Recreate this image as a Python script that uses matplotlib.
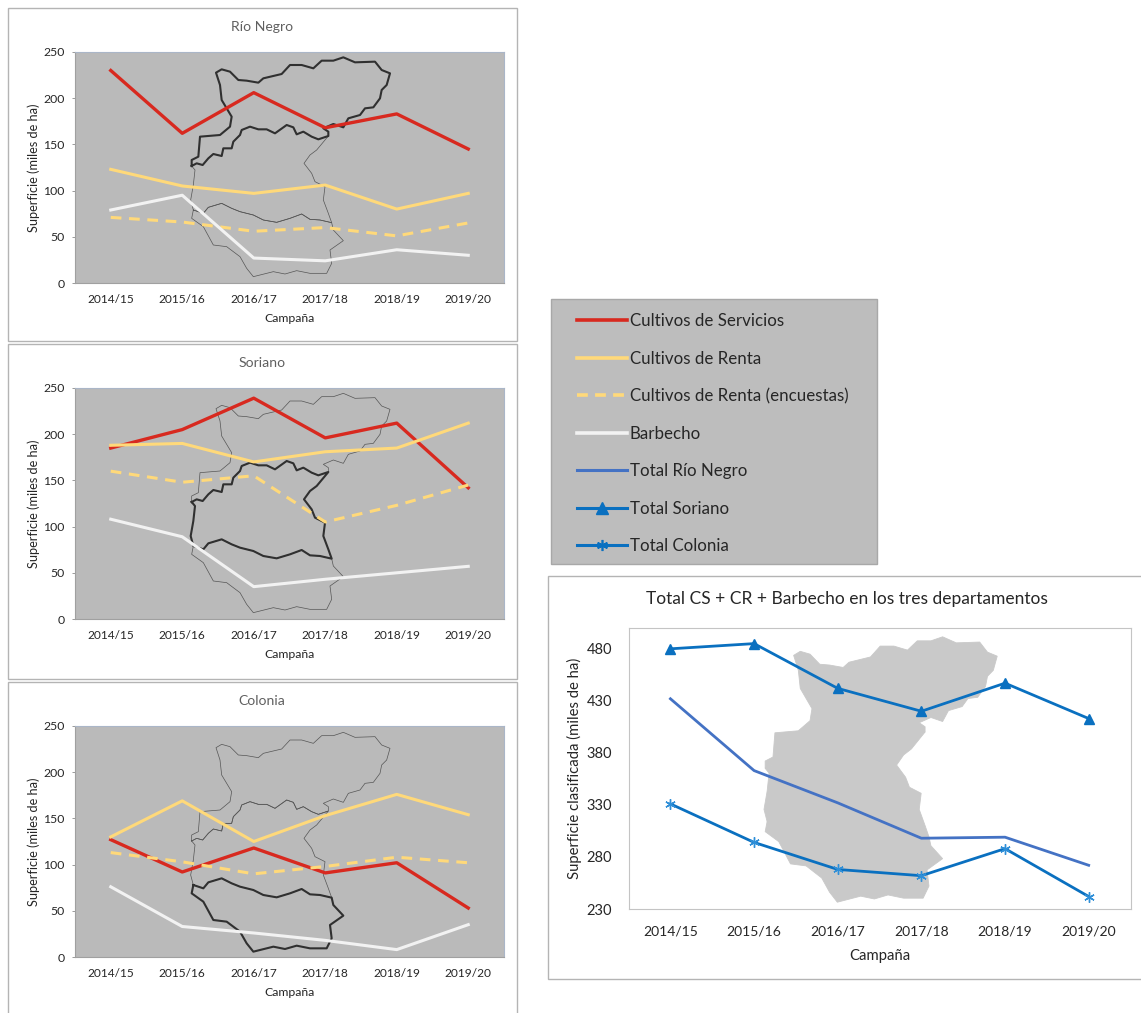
import matplotlib
matplotlib.use("Agg")
import matplotlib.pyplot as plt
from matplotlib.lines import Line2D
from matplotlib.patches import Rectangle
from matplotlib.transforms import Affine2D

plt.rcParams["font.family"] = ["Lato", "DejaVu Sans"]

W, H = 1141, 1013

campaigns = ["2014/15", "2015/16", "2016/17", "2017/18", "2018/19", "2019/20"]

rn_servicios = [230, 162, 206, 168, 183, 145]
rn_renta = [123, 105, 97, 106, 80, 97]
rn_encuestas = [71, 66, 56, 60, 51, 65]
rn_barbecho = [79, 95, 27, 24, 36, 30]

so_servicios = [185, 205, 239, 196, 212, 142]
so_renta = [188, 190, 170, 181, 185, 212]
so_encuestas = [160, 148, 155, 105, 123, 145]
so_barbecho = [108, 89, 35, 43, 50, 57]

co_servicios = [127, 92, 118, 91, 102, 53]
co_renta = [130, 169, 125, 153, 176, 154]
co_encuestas = [113, 103, 90, 98, 108, 102]
co_barbecho = [76, 33, 26, 18, 8, 35]

total_rio_negro = [432, 363, 332, 298, 299, 272]
total_soriano = [480, 485, 442, 420, 447, 413]
total_colonia = [331, 294, 268, 262, 288, 242]

# map outlines (3x zoom pixels)
rn_x = [575, 590, 608, 625, 640, 665, 670, 695, 700, 720, 725, 750, 775, 800, 825, 860, 880, 890, 910, 935, 955, 985,
        985, 970, 1000, 1030, 1045, 1080, 1095, 1120, 1140, 1145, 1160, 1170, 1145, 1125, 1065, 1030, 1000, 965, 940,
        905, 870, 845, 790, 775, 740, 715, 690, 665, 648, 660, 665, 680, 695, 690, 660, 600, 595, 575, 575]
rn_y = [498, 490, 495, 475, 462, 468, 445, 445, 425, 405, 390, 380, 388, 388, 400, 375, 382, 403, 395, 410, 418, 408,
        395, 385, 372, 382, 355, 345, 325, 322, 295, 270, 255, 220, 210, 185, 187, 172, 182, 182, 205,
        195, 195, 222, 235, 248, 242, 240, 215, 208, 218, 255, 300, 325, 350, 380, 405, 410, 470, 480, 498]
so_x = [575, 590, 608, 625, 640, 665, 670, 695, 700, 720, 725, 750, 775, 800, 825, 860, 880, 890, 910, 935, 955, 985,
        975, 950, 930, 912, 935, 945, 975, 970, 985, 995,
        960, 930, 905, 870, 830, 790, 760, 720, 695, 665, 625, 610, 580, 572, 580, 585, 575]
so_y = [498, 490, 495, 475, 462, 468, 445, 445, 425, 405, 390, 380, 388, 388, 400, 375, 382, 403, 395, 410, 418, 408,
        420, 450, 465, 490, 520, 545, 560, 600, 640, 668,
        660, 658, 642, 655, 667, 660, 645, 635, 625, 610, 622, 640, 630, 600, 555, 510, 498]
co_x = [580, 610, 625, 665, 695, 720, 760, 790, 830, 870, 905, 930, 960, 995,
        1000, 1030, 990, 995, 980, 930, 890, 855, 820, 760, 740, 720, 680, 640, 610, 575, 580]
co_y = [630, 640, 622, 610, 625, 635, 645, 660, 667, 655, 642, 658, 660, 668,
        690, 722, 750, 790, 820, 820, 812, 822, 815, 830, 805, 770, 740, 735, 680, 655, 630]

GREY = "#bababa"
RED = "#d8291f"
YELLOW = "#ffd97a"
WHITE = "#f2f2f2"
BLUE = "#4472c4"
BLUE2 = "#0a70c0"
TEXT = "#262626"
ASTERISK = (6, 2, 0)

fig = plt.figure(figsize=(W / 100, H / 100), dpi=100, facecolor="white")
# everything that is placed by hand is placed in reference pixels
px = Affine2D().scale(1 / W, -1 / H).translate(0, 1) + fig.transFigure


def frame(x0, y0, x1, y1, fc="white", ec="#b4b4b4"):
    fig.add_artist(Rectangle((x0, y0), x1 - x0, y1 - y0, transform=px, fc=fc, ec=ec, lw=1, zorder=-1))


def axes_px(x0, y0, x1, y1):
    return fig.add_axes([x0 / W, 1 - y1 / H, (x1 - x0) / W, (y1 - y0) / H])


def outline(ax, xs, ys, dy, bold):
    color = "#303030" if bold else "#555555"
    ax.plot([x / 3 for x in xs], [y / 3 + dy for y in ys], transform=px, color=color,
            lw=1.5 if bold else 0.5, zorder=2 if bold else 1)


def panel(box, name, bold, series, dy):
    x0, y0, x1, y1 = box
    frame(x0, y0, x1, y1)
    ax = axes_px(75, y0 + 44, 504, y0 + 275)
    ax.set_facecolor(GREY)
    outline(ax, rn_x, rn_y, dy, bold == "rn")
    outline(ax, so_x, so_y, dy, bold == "so")
    outline(ax, co_x, co_y, dy, bold == "co")
    ax.plot(campaigns, series[0], color=RED, lw=2.4, zorder=3)
    ax.plot(campaigns, series[1], color=YELLOW, lw=2.2, zorder=3)
    ax.plot(campaigns, series[2], color=YELLOW, lw=2.2, ls=(0, (3.5, 2.5)), zorder=3)
    ax.plot(campaigns, series[3], color=WHITE, lw=2.2, zorder=3)
    ax.set_xlim(-0.5, 5.5)
    ax.set_ylim(0, 250)
    ax.set_yticks(range(0, 251, 50))
    ax.tick_params(axis="x", length=0, labelsize=8.6, pad=8, labelcolor=TEXT)
    ax.tick_params(axis="y", length=2.5, width=0.6, color="#8a8a8a", labelsize=8.8, pad=5, labelcolor=TEXT)
    for side in ["top", "right"]:
        ax.spines[side].set_color("#aab6c8")
    ax.spines["left"].set_color("#a0a0a0")
    ax.spines["bottom"].set_color("#a0a0a0")
    ax.set_ylabel("Superficie (miles de ha)", fontsize=9.2, color=TEXT, labelpad=2)
    ax.set_xlabel("Campaña", fontsize=8.8, color=TEXT, labelpad=6)
    fig.text(262 / W, 1 - (y0 + 19) / H, name, fontsize=10.1, color="#606060", ha="center", va="center")


panel((8, 8, 517, 341), "Río Negro", "rn", [rn_servicios, rn_renta, rn_encuestas, rn_barbecho], 0)
panel((8, 344, 517, 679), "Soriano", "so", [so_servicios, so_renta, so_encuestas, so_barbecho], 336)
panel((8, 682, 517, 1014), "Colonia", "co", [co_servicios, co_renta, co_encuestas, co_barbecho], 675)

# legend box
frame(551, 299, 877, 564, fc="#bdbdbd", ec="#a8a8a8")
handles = [
    Line2D([], [], color=RED, lw=2.6, label="Cultivos de Servicios"),
    Line2D([], [], color=YELLOW, lw=2.6, label="Cultivos de Renta"),
    Line2D([], [], color=YELLOW, lw=2.6, ls=(0, (3, 2)), label="Cultivos de Renta (encuestas)"),
    Line2D([], [], color=WHITE, lw=2.6, label="Barbecho"),
    Line2D([], [], color=BLUE, lw=2.2, label="Total Río Negro"),
    Line2D([], [], color=BLUE2, lw=2.2, marker="^", ms=8, label="Total Soriano"),
    Line2D([], [], color=BLUE2, lw=2.2, marker=ASTERISK, ms=8, mew=1.2, label="Total Colonia"),
]
fig.legend(handles=handles, loc="upper left", bbox_to_anchor=(571.5 / W, 1 - 308 / H), frameon=False,
           fontsize=12.2, labelcolor=TEXT, handlelength=3.0, handletextpad=0.15, labelspacing=1.27,
           borderpad=0.3, borderaxespad=0)

# totals chart
frame(548, 576, 1145, 979)
ax = axes_px(628.6, 628, 1130.5, 909)
ax.set_facecolor("white")
sx, sy = 1.17, 1.21
for xs, ys in [(rn_x, rn_y), (so_x, so_y), (co_x, co_y)]:
    ax.fill([764 + (x - 572) / 3 * sx for x in xs], [636 + (y - 170) / 3 * sy for y in ys],
            transform=px, fc="#c9c9c9", ec="#c9c9c9", lw=0.6, zorder=1)
ax.plot(campaigns, total_rio_negro, color=BLUE, lw=2, zorder=3)
ax.plot(campaigns, total_soriano, color=BLUE2, lw=2, marker="^", ms=7, zorder=3)
ax.plot(campaigns, total_colonia, color=BLUE2, lw=2, marker=ASTERISK, ms=7.5, mew=1, mec="#2f8fd8", zorder=3)
ax.set_xlim(-0.5, 5.5)
ax.set_ylim(230, 500)
ax.set_yticks(range(230, 481, 50))
ax.tick_params(axis="both", length=0, labelcolor=TEXT)
ax.tick_params(axis="x", pad=12, labelsize=10)
ax.tick_params(axis="y", pad=12, labelsize=10.5)
for s in ax.spines.values():
    s.set_color("#c4c4c4")
ax.set_ylabel("Superficie clasificada (miles de ha)", fontsize=10.7, color=TEXT, labelpad=3)
ax.set_xlabel("Campaña", fontsize=10.7, color=TEXT, labelpad=8)
fig.text(847 / W, 1 - 599 / H, "Total CS + CR + Barbecho en los tres departamentos", fontsize=12.5,
         color=TEXT, ha="center", va="center")

fig.savefig("out.png", dpi=100)
